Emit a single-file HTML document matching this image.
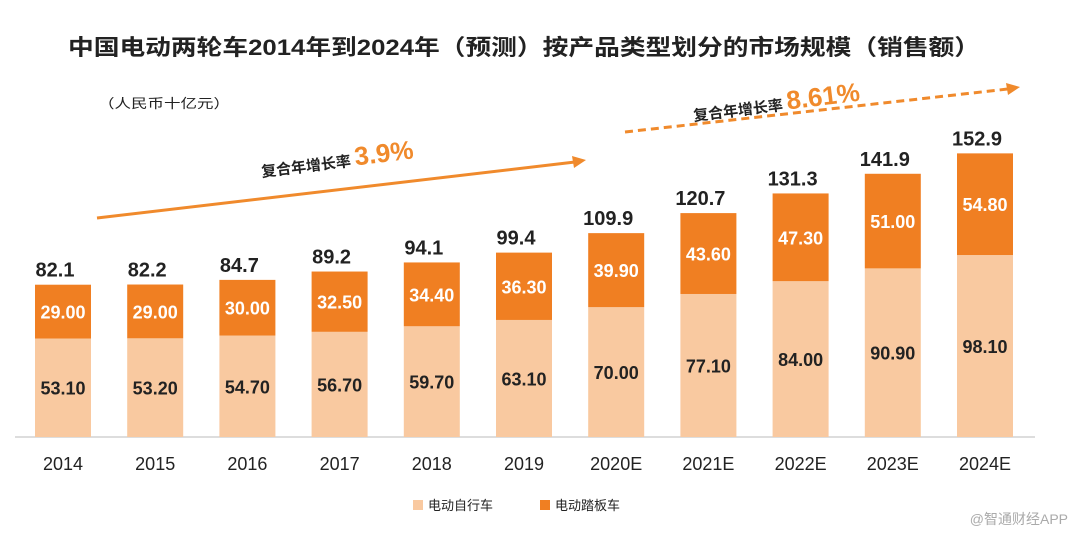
<!DOCTYPE html>
<html><head><meta charset="utf-8"><style>
body{margin:0;background:#fff;}
svg{display:block;font-family:"Liberation Sans","Noto Sans CJK SC",sans-serif;}
</style></head><body>
<svg id="chart" width="1076" height="538">
<text x="68" y="55" textLength="912" lengthAdjust="spacingAndGlyphs" font-size="22" font-weight="bold" fill="#222">中国电动两轮车2014年到2024年（预测）按产品类型划分的市场规模（销售额）</text>
<text x="98" y="108" textLength="132" lengthAdjust="spacingAndGlyphs" font-size="13" fill="#222">（人民币十亿元）</text>
<g>
<line x1="97" y1="218" x2="575" y2="162" stroke="#f08a2c" stroke-width="3"/>
<polygon points="586,160 572,156 574,168" fill="#f08a2c"/>
<g transform="translate(262,177) rotate(-7)"><text font-size="15" font-weight="bold" fill="#222">复合年增长率 <tspan font-size="26" fill="#f08a2c">3.9%</tspan></text></g>
</g>
<g>
<line x1="625" y1="132" x2="1008" y2="89" stroke="#f08a2c" stroke-width="3" stroke-dasharray="8,5"/>
<polygon points="1020,87 1006,83 1008,95" fill="#f08a2c"/>
<g transform="translate(694,121) rotate(-7)"><text font-size="15" font-weight="bold" fill="#222">复合年增长率 <tspan font-size="26" fill="#f08a2c">8.61%</tspan></text></g>
</g>
<line x1="15" y1="437" x2="1035" y2="437" stroke="#bbb" stroke-width="1"/>
<g id="bars"></g>
<g>
<rect x="413" y="500" width="10" height="10" fill="#f9c9a0"/>
<text x="428" y="510" font-size="13" fill="#222">电动自行车</text>
<rect x="540" y="500" width="10" height="10" fill="#f07f22"/>
<text x="555" y="510" font-size="13" fill="#222">电动踏板车</text>
</g>
<text x="1068" y="524" text-anchor="end" font-size="14" fill="#aaa">@智通财经APP</text>
</svg>
<script>
const categories=["2014","2015","2016","2017","2018","2019","2020E","2021E","2022E","2023E","2024E"];
const ebikeValues=[53.10,53.20,54.70,56.70,59.70,63.10,70.00,77.10,84.00,90.90,98.10];
const scooterValues=[29.00,29.00,30.00,32.50,34.40,36.30,39.90,43.60,47.30,51.00,54.80];
const totalValues=[82.1,82.2,84.7,89.2,94.1,99.4,109.9,120.7,131.3,141.9,152.9];
const base=437, k=1.855, x0=63, step=92.2, bw=56;
const y=v=>base-v*k, xc=i=>x0+i*step;
const g=document.getElementById('bars'), NS="http://www.w3.org/2000/svg";
function mk(t,a,txt){const e=document.createElementNS(NS,t);for(const p in a)e.setAttribute(p,a[p]);if(txt!==undefined)e.textContent=txt;g.appendChild(e);return e;}
categories.forEach((c,i)=>{
 const a=ebikeValues[i], b=scooterValues[i], tot=a+b, cx=xc(i);
 let e=mk('rect',{x:cx-bw/2,y:y(a),width:bw,height:a*k,fill:'#f9c9a0'});
 
 
 e=mk('rect',{x:cx-bw/2,y:y(tot),width:bw,height:b*k,fill:'#f07f22'});
 
 
 e=mk('text',{x:cx,y:(y(a)+base)/2+7,'text-anchor':'middle','font-size':18,'font-weight':'bold',fill:'#222'},a.toFixed(2));
 
 
 e=mk('text',{x:cx,y:(y(tot)+y(a))/2+7,'text-anchor':'middle','font-size':18,'font-weight':'bold',fill:'#fff'},b.toFixed(2));
 
 
 e=mk('text',{x:cx-8,y:y(tot)-8,'text-anchor':'middle','font-size':20,'font-weight':'bold',fill:'#222'},totalValues[i].toFixed(1));
 
 
 e=mk('text',{x:cx,y:470,'text-anchor':'middle','font-size':18,fill:'#222'},c);
 
 
});
</script>
</body></html>
